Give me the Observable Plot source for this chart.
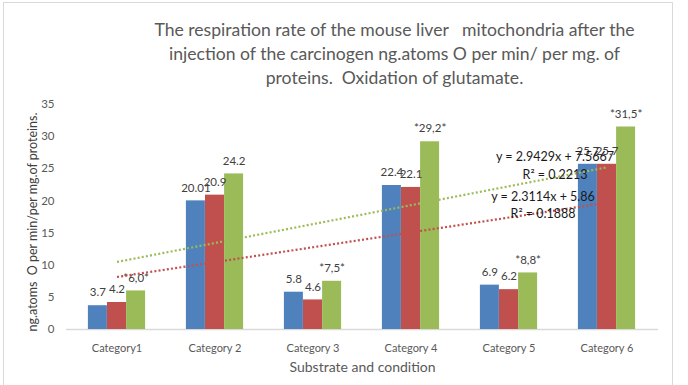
<!DOCTYPE html>
<html>
<head>
<meta charset="utf-8">
<script src="https://cdn.jsdelivr.net/npm/d3@7"></script>
<script src="https://cdn.jsdelivr.net/npm/@observablehq/plot@0.6"></script>
<style>
  html, body { margin: 0; padding: 0; background: #fff; }
  #wrap { position: relative; width: 688px; height: 385px; overflow: hidden; }
  #frame { position: absolute; left: 3px; top: 2px; width: 670px; height: 400px; border: 1px solid #d9d9d9; box-sizing: border-box; pointer-events: none; }
  #chart { position: absolute; left: 0; top: 0; }
</style>
</head>
<body>
<div id="wrap"><div id="chart"></div><div id="frame"></div></div>
<script>
const categories = ["Category1", "Category 2", "Category 3", "Category 4", "Category 5", "Category 6"];
const blueValues = [3.7, 20.01, 5.8, 22.4, 6.9, 25.7];
const redValues = [4.2, 20.9, 4.6, 22.1, 6.2, 25.7];
const greenValues = [6.0, 24.2, 7.5, 29.2, 8.8, 31.5];
const blueLabels = ["3.7", "20.01", "5.8", "22.4", "6.9", "25.7"];
const redLabels = ["4.2", "20.9", "4.6", "22.1", "6.2", "25.7"];
const greenLabels = ["*6,0*", "24.2", "*7,5*", "*29,2*", "*8,8*", "*31,5*"];
const yTicks = [0, 5, 10, 15, 20, 25, 30, 35];
const greenTrend = [2.9429, 7.5667]; // slope, intercept
const redTrend = [2.3114, 5.86];
const greenEquation = "y = 2.9429x + 7.5667\nR² = 0.2213";
const redEquation = "y = 2.3114x + 5.86\nR² = 0.1888";
const titleText = "The respiration rate of the mouse liver   mitochondria after the\ninjection of the carcinogen ng.atoms O per min/ per mg. of\nproteins.  Oxidation of glutamate.";
const yLabel = "ng.atoms  O per min/per mg.of proteins.";
const xLabel = "Substrate and condition";

const colors = {blue: "#4F81BD", red: "#C0504D", green: "#9BBB59"};
const FONT = "Lato, 'Open Sans', sans-serif";

const mk = (vals, labels) => categories.map((c, i) => ({cat: c, value: vals[i], label: labels[i]}));
const blueData = mk(blueValues, blueLabels);
const redData = mk(redValues, redLabels);
const greenData = mk(greenValues, greenLabels);
const trend = (t) => categories.map((c, i) => ({cat: c, value: t[0] * (i + 1) + t[1]}));
const greenLine = trend(greenTrend);
const redLine = trend(redTrend);
const last = categories[categories.length - 1];

const barW = 19.1;
const labelStyle = {fontSize: 11.5, fill: "#404040", dy: -13, fontFamily: FONT};
const dotted = {strokeWidth: 2.2, strokeDasharray: "2,2.2", strokeLinecap: "butt"};

const chart = Plot.plot({
  width: 688,
  height: 385,
  marginTop: 104,
  marginBottom: 56,
  marginLeft: 66,
  marginRight: 30,
  style: {fontFamily: FONT, background: "transparent"},
  x: {domain: categories, paddingInner: 0.806, paddingOuter: 0.403, axis: null},
  y: {domain: [0, 35], axis: null},
  marks: [
    Plot.ruleY([0], {stroke: "#d9d9d9", strokeWidth: 1.5}),
    Plot.barY(blueData, {x: "cat", y: "value", fill: colors.blue, dx: -barW}),
    Plot.barY(redData, {x: "cat", y: "value", fill: colors.red}),
    Plot.barY(greenData, {x: "cat", y: "value", fill: colors.green, dx: barW}),
    Plot.text(blueData, {x: "cat", y: "value", text: "label", ...labelStyle, dx: -barW}),
    Plot.text(redData, {x: "cat", y: "value", text: "label", ...labelStyle}),
    Plot.text(greenData, {x: "cat", y: "value", text: "label", ...labelStyle, dx: barW}),
    Plot.line(greenLine, {x: "cat", y: "value", stroke: colors.green, ...dotted}),
    Plot.line(redLine, {x: "cat", y: "value", stroke: colors.red, ...dotted}),
    Plot.text(greenLine.filter(d => d.cat === last), {x: "cat", y: "value", text: () => greenEquation, dx: -52, dy: -3, fontSize: 12.5, fill: "#1a1a1a", lineHeight: 1.4, fontFamily: FONT}),
    Plot.text(redLine.filter(d => d.cat === last), {x: "cat", y: "value", text: () => redEquation, dx: -64, dy: 1, fontSize: 12.5, fill: "#1a1a1a", lineHeight: 1.4, fontFamily: FONT}),
    Plot.axisY({ticks: yTicks, tickSize: 0, tickPadding: 12, fontSize: 11.5, color: "#595959", label: null}),
    Plot.axisX({tickSize: 0, tickPadding: 15, fontSize: 11, color: "#595959", label: null}),
    Plot.text([xLabel], {text: d => d, frameAnchor: "bottom", lineAnchor: "middle", dy: 38, fontSize: 14, fill: "#595959"}),
    Plot.text([yLabel], {text: d => d, frameAnchor: "left", textAnchor: "middle", lineAnchor: "middle", rotate: -90, dx: -34, dy: 5, fontSize: 12.5, fill: "#404040"}),
    Plot.text([titleText], {text: d => d, frameAnchor: "top", lineAnchor: "middle", dx: 32, dy: -52, fontSize: 17.6, lineHeight: 1.34, fill: "#595959"})
  ]
});
document.getElementById("chart").appendChild(chart);
</script>
</body>
</html>
